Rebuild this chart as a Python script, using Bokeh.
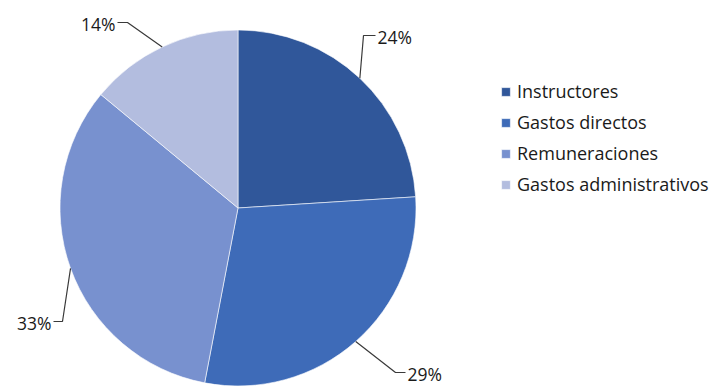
import math
from bokeh.plotting import figure
from bokeh.models import ColumnDataSource, Range1d, Legend, LegendItem
from bokeh.core.properties import value
from bokeh.embed import file_html
from bokeh.resources import INLINE

# ---- data ----
categories = ["Instructores", "Gastos directos", "Remuneraciones", "Gastos administrativos"]
shares = [24, 29, 33, 14]
colors = ["#30579A", "#3E6BB8", "#7891CF", "#B3BDDF"]

W, H = 714, 389
CX, CY, R = 237.5, H - 207.5, 178

# label layout: (elbow x, elbow y, end x) in page pixels from top-left
elbows = [(363, 35, 375), (395, 372, 405), (62, 321, 53), (127, 22, 117)]

p = figure(width=W, height=H, output_backend="svg", toolbar_location=None,
           x_range=Range1d(0, W), y_range=Range1d(0, H), min_border=0)
p.axis.visible = False
p.grid.visible = False
p.outline_line_color = None
p.background_fill_color = "white"

total = sum(shares)
cum = 0.0
items = []
lx, ly, tx, ty, tt, ta = [], [], [], [], [], []
for cat, s, c, (ex, ey, endx) in zip(categories, shares, colors, elbows):
    a0 = math.pi / 2 - 2 * math.pi * cum / total
    a1 = math.pi / 2 - 2 * math.pi * (cum + s) / total
    mid = math.pi / 2 - 2 * math.pi * (cum + s / 2) / total
    src = ColumnDataSource(dict(x=[CX], y=[CY], s=[a0], e=[a1]))
    r = p.wedge(x="x", y="y", radius=R, start_angle="s", end_angle="e",
                direction="clock", source=src, fill_color=c,
                line_color="white", line_width=0.6)
    items.append(LegendItem(label=cat, renderers=[r]))
    sx = CX + R * math.cos(mid)
    sy = CY + R * math.sin(mid)
    lx.append([sx, ex, endx])
    ly.append([sy, H - ey, H - ey])
    if endx > ex:
        tx.append(endx + 2)
        ta.append("left")
    else:
        tx.append(endx - 2)
        ta.append("right")
    ty.append(H - ey - 1)
    tt.append(f"{s}%")
    cum += s

p.multi_line(xs=lx, ys=ly, line_color="#3a3a3a", line_width=1.2)
p.text(x=tx, y=ty, text=tt, text_align=ta, text_baseline="alphabetic",
       text_font=value("Open Sans"), text_font_size="17.5px", text_color="#1a1a1a")

legend = Legend(items=items, location=(500, H - 78 - 118), orientation="vertical",
                glyph_width=11, glyph_height=11, label_height=21, spacing=7,
                label_standoff=6, padding=0, margin=0,
                border_line_color=None, background_fill_alpha=0,
                label_text_font="Open Sans", label_text_font_size="18px",
                label_text_color="#1a1a1a")
p.add_layout(legend, "center")

open("out.html", "w").write(file_html(p, INLINE))
